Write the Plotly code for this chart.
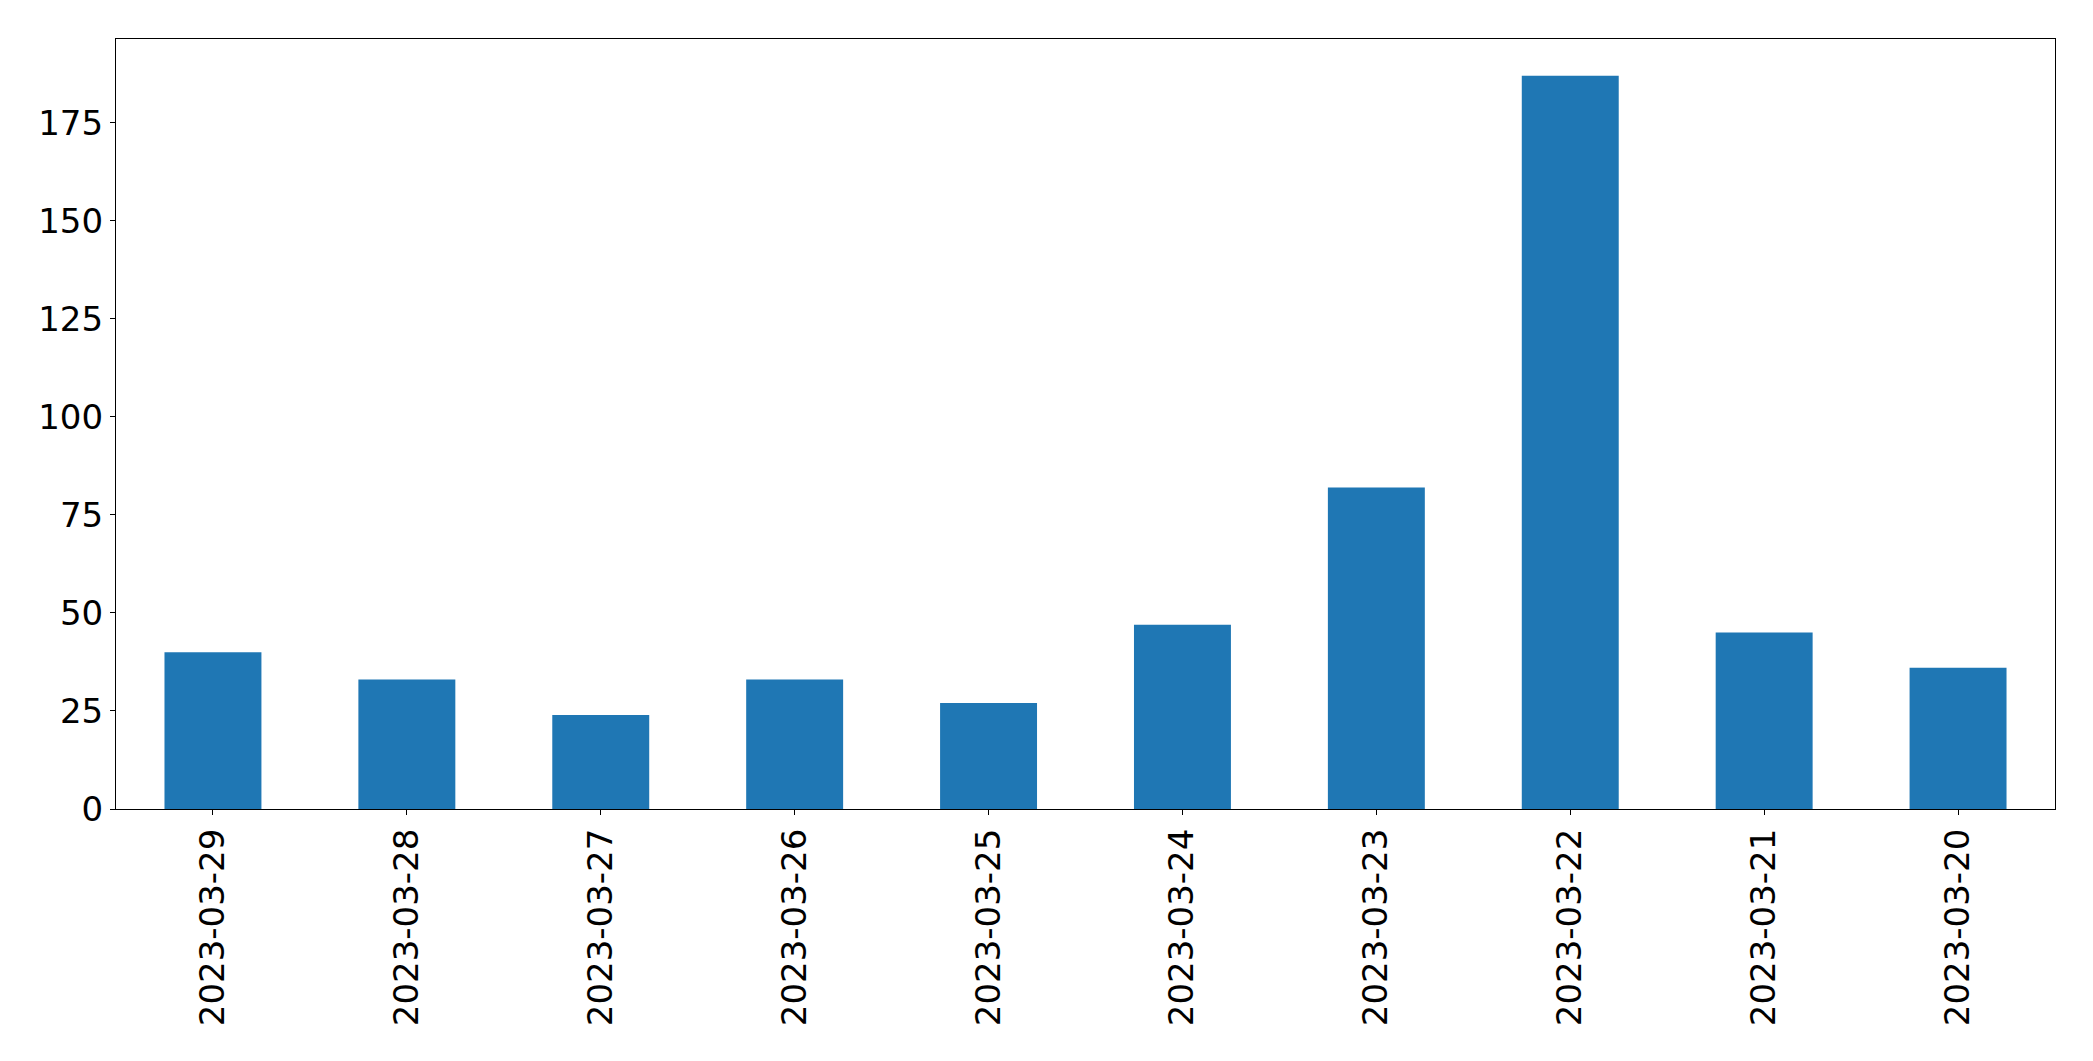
import plotly.graph_objects as go

dates = ["2023-03-29", "2023-03-28", "2023-03-27", "2023-03-26", "2023-03-25",
         "2023-03-24", "2023-03-23", "2023-03-22", "2023-03-21", "2023-03-20"]
counts = [40, 33, 24, 33, 27, 47, 82, 187, 45, 36]
y_ticks = [0, 25, 50, 75, 100, 125, 150, 175]

fig = go.Figure(go.Bar(x=dates, y=counts, marker=dict(color="#1f77b4", line=dict(width=0)), width=0.5))

axis_common = dict(showline=True, linecolor="black", linewidth=1.1, mirror=True,
                   ticks="outside", ticklen=5, tickwidth=1.1, tickcolor="black",
                   showgrid=False, zeroline=False,
                   tickfont=dict(family="DejaVu Sans", size=34, color="black"))

fig.update_layout(
    width=2093, height=1061,
    margin=dict(l=116, r=38, t=39, b=252),
    paper_bgcolor="white", plot_bgcolor="white",
    showlegend=False, bargap=0.5,
    xaxis=dict(type="category", range=[-0.5, 9.5], tickangle=-90, **axis_common),
    yaxis=dict(range=[0, 187 * 1.05], tickvals=y_ticks, ticktext=[str(v) for v in y_ticks], **axis_common),
)

fig.write_html("out.html")
